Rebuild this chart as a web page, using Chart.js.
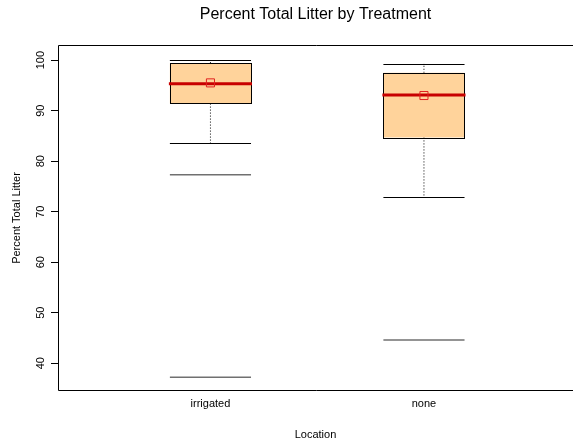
<!DOCTYPE html>
<html>
<head>
<meta charset="utf-8">
<title>Percent Total Litter by Treatment</title>
<script src="https://cdn.jsdelivr.net/npm/chart.js@4/dist/chart.umd.min.js"></script>
<style>
  body { margin: 0; background: #fff; }
  canvas { display: block; }
</style>
</head>
<body>
<canvas id="boxChart" width="573" height="443"></canvas>
<script>
const categories = ["irrigated", "none"];
const whiskerLow = [83.5, 73.0];
const q1 = [91.4, 84.7];
const median = [95.35, 93.1];
const q3 = [99.4, 97.5];
const whiskerHigh = [100, 99.3];
const means = [95.5, 93.0];
const outliers = [[77.3, 37.2], [44.6]];
const yTicks = [40, 50, 60, 70, 80, 90, 100];

const FONT = "'Liberation Sans', Arial, Helvetica, sans-serif";
const BOX_HALF = 0.19;

// boxes, whiskers, caps, outliers and the plot frame
const boxPlotPlugin = {
  id: "boxPlot",
  beforeDatasetsDraw(chart) {
    const { ctx, chartArea, scales: { x, y } } = chart;
    ctx.save();

    categories.forEach((name, i) => {
      const pos = i + 1;
      const left = x.getPixelForValue(pos - BOX_HALF);
      const right = x.getPixelForValue(pos + BOX_HALF);
      const mid = x.getPixelForValue(pos);

      // dotted whiskers
      ctx.strokeStyle = "#000";
      ctx.lineWidth = 1;
      ctx.setLineDash([1, 2]);
      ctx.beginPath();
      ctx.moveTo(mid, y.getPixelForValue(q1[i]));
      ctx.lineTo(mid, y.getPixelForValue(whiskerLow[i]));
      ctx.moveTo(mid, y.getPixelForValue(q3[i]));
      ctx.lineTo(mid, y.getPixelForValue(whiskerHigh[i]));
      ctx.stroke();
      ctx.setLineDash([]);

      // whisker caps
      ctx.beginPath();
      [whiskerLow[i], whiskerHigh[i]].forEach((v) => {
        const py = Math.round(y.getPixelForValue(v)) + 0.5;
        ctx.moveTo(left, py);
        ctx.lineTo(right, py);
      });
      ctx.stroke();

      // box
      const top = y.getPixelForValue(q3[i]);
      const bottom = y.getPixelForValue(q1[i]);
      ctx.fillStyle = "#FFD39B";
      ctx.fillRect(left, top, right - left, bottom - top);
      ctx.strokeStyle = "#000";
      ctx.strokeRect(Math.round(left) + 0.5, Math.round(top) + 0.5,
        Math.round(right - left), Math.round(bottom - top));

      // median
      ctx.strokeStyle = "#C80000";
      ctx.lineWidth = 3;
      ctx.beginPath();
      const my = y.getPixelForValue(median[i]);
      ctx.moveTo(left - 1, my);
      ctx.lineTo(right + 1, my);
      ctx.stroke();

      // outliers drawn as short horizontal lines
      ctx.strokeStyle = "#707070";
      ctx.lineWidth = 1.5;
      ctx.beginPath();
      outliers[i].forEach((v) => {
        const py = y.getPixelForValue(v);
        ctx.moveTo(left, py);
        ctx.lineTo(right, py);
      });
      ctx.stroke();
    });

    // frame: left, top and bottom edges
    ctx.strokeStyle = "#000";
    ctx.lineWidth = 1;
    ctx.beginPath();
    ctx.moveTo(chartArea.right + 1, chartArea.top + 0.5);
    ctx.lineTo(chartArea.left + 0.5, chartArea.top + 0.5);
    ctx.lineTo(chartArea.left + 0.5, chartArea.bottom - 0.5);
    ctx.lineTo(chartArea.right + 1, chartArea.bottom - 0.5);
    ctx.stroke();

    ctx.restore();
  },
};

const ctx = document.getElementById("boxChart");

new Chart(ctx, {
  type: "scatter",
  data: {
    datasets: [
      {
        label: "Mean",
        data: means.map((m, i) => ({ x: i + 1, y: m })),
        pointStyle: "rect",
        pointRadius: 5.7,
        pointHoverRadius: 5.7,
        borderColor: "#E02020",
        backgroundColor: "rgba(0,0,0,0)",
        borderWidth: 1,
      },
    ],
  },
  options: {
    responsive: false,
    animation: false,
    layout: { autoPadding: false, padding: 0 },
    plugins: {
      legend: { display: false },
      tooltip: { enabled: false },
      title: {
        display: true,
        fullSize: false,
        text: "Percent Total Litter by Treatment",
        color: "#000",
        font: { family: FONT, size: 16, weight: "normal" },
        padding: { top: 4.9, bottom: 20.9 },
      },
    },
    scales: {
      x: {
        type: "linear",
        min: 0.286,
        max: 2.698,
        afterBuildTicks: (scale) => {
          scale.ticks = categories.map((c, i) => ({ value: i + 1 }));
        },
        afterFit: (scale) => {
          scale.height = 52;
        },
        grid: { display: false, drawTicks: false },
        border: { display: false },
        ticks: {
          color: "#000",
          font: { family: FONT, size: 11 },
          padding: 6,
          maxRotation: 0,
          callback: (value) => categories[value - 1],
        },
        title: {
          display: true,
          text: "Location",
          color: "#000",
          font: { family: FONT, size: 11 },
          padding: { top: 0, bottom: 1.2 },
        },
      },
      y: {
        min: 34.5,
        max: 103,
        afterBuildTicks: (scale) => {
          scale.ticks = yTicks.map((v) => ({ value: v }));
        },
        afterFit: (scale) => {
          scale.width = 58;
        },
        grid: {
          drawOnChartArea: false,
          drawTicks: true,
          tickLength: 7,
          color: "#000",
        },
        border: { display: false },
        ticks: {
          color: "#000",
          font: { family: FONT, size: 11 },
          minRotation: 90,
          maxRotation: 90,
          crossAlign: "center",
          padding: 1,
        },
        title: {
          display: true,
          text: "Percent Total Litter",
          color: "#000",
          font: { family: FONT, size: 11 },
          padding: { top: 10.4, bottom: 0 },
        },
      },
    },
  },
  plugins: [boxPlotPlugin],
});
</script>
</body>
</html>
